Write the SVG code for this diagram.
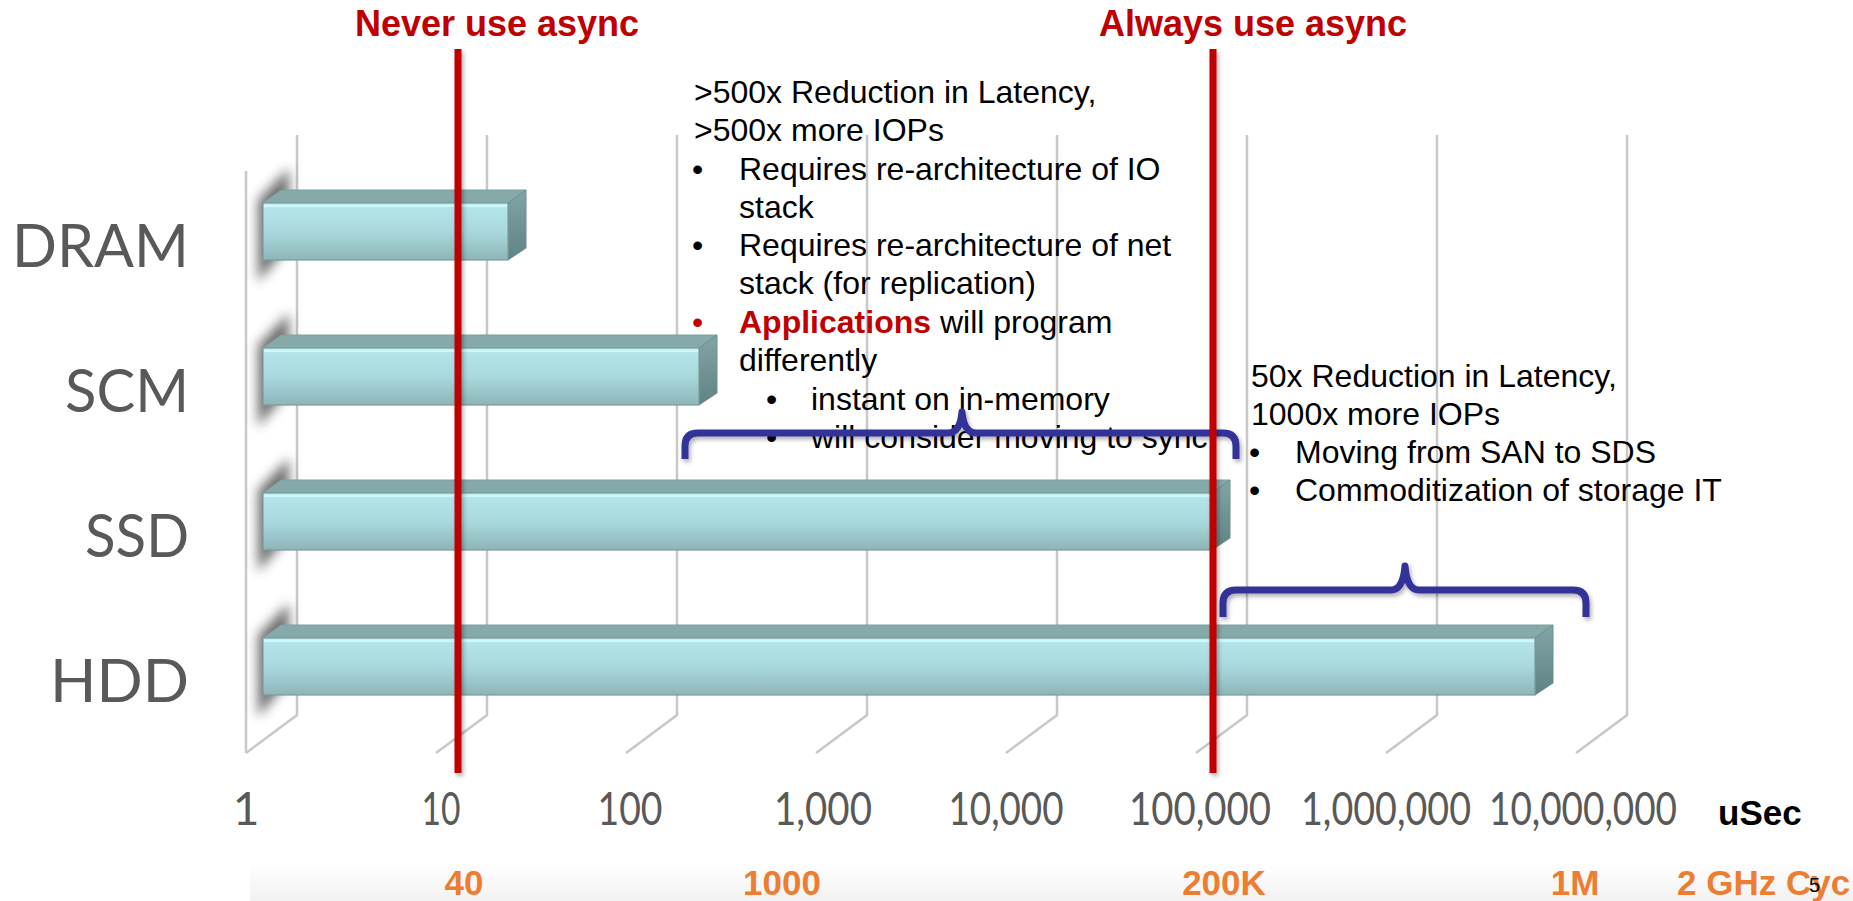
<svg xmlns="http://www.w3.org/2000/svg" width="1853" height="901" viewBox="0 0 1853 901">
<defs>
  <linearGradient id="gFront" x1="0" y1="0" x2="0" y2="1">
    <stop offset="0" stop-color="#c6f4f8"/>
    <stop offset="0.1" stop-color="#b2e4e8"/>
    <stop offset="0.5" stop-color="#a9d9dd"/>
    <stop offset="1" stop-color="#8eb5b8"/>
  </linearGradient>
  <linearGradient id="gSide" x1="0" y1="0" x2="0" y2="1">
    <stop offset="0" stop-color="#82a6a7"/>
    <stop offset="1" stop-color="#5f8384"/>
  </linearGradient>
  <linearGradient id="gBottom" x1="0" y1="0" x2="0" y2="1">
    <stop offset="0" stop-color="#ffffff"/>
    <stop offset="1" stop-color="#f2f2f2"/>
  </linearGradient>
  <filter id="fBlur" x="-100%" y="-50%" width="300%" height="200%">
    <feGaussianBlur stdDeviation="6"/>
  </filter>
  <filter id="fShadow" filterUnits="userSpaceOnUse" x="0" y="0" width="1853" height="901">
    <feDropShadow dx="2" dy="3" stdDeviation="2" flood-color="#000" flood-opacity="0.3"/>
  </filter>
</defs>
<style>
  .grid { fill: none; stroke: #c8c8c8; stroke-width: 2.5; }
  .top { fill: #86a9aa; stroke: #7d9fa0; stroke-width: 1; }
  .side { fill: url(#gSide); stroke: #6c8e8f; stroke-width: 1; }
  .front { fill: url(#gFront); stroke: #7a9b9c; stroke-width: 1.2; }
  .hl { stroke: #cdf7fa; stroke-width: 2; }
  .shadow { fill: #3c3c3c; opacity: 0.75; }
  .cat { font-family: Lato, "Open Sans", sans-serif; font-size: 60px; fill: #595959; text-anchor: end; }
  .axis { font-family: Lato, "Open Sans", sans-serif; font-size: 46px; fill: #595959; text-anchor: middle; }
  .t { font-family: "Liberation Sans", Arial, sans-serif; font-size: 32px; fill: #000; }
  .title { font-family: "Liberation Sans", Arial, sans-serif; font-size: 36px; font-weight: bold; fill: #c00000; text-anchor: middle; }
  .or { font-family: "Liberation Sans", Arial, sans-serif; font-size: 35px; font-weight: bold; fill: #ed7d31; }
  .redline { fill: #c00000; }
  .brace { fill: none; stroke: #333399; stroke-width: 7; stroke-linejoin: round; }
</style>
<rect width="1853" height="901" fill="#ffffff"/>
<rect x="250" y="862" width="1603" height="39" fill="url(#gBottom)"/>

<g id="grid">
  <path class="grid" d="M246,171 V753"/>
  <path class="grid" d="M297,135 V715 L246,753"/>
  <path class="grid" d="M487,135 V715 L436,753"/>
  <path class="grid" d="M677,135 V715 L626,753"/>
  <path class="grid" d="M867,135 V715 L816,753"/>
  <path class="grid" d="M1057,135 V715 L1006,753"/>
  <path class="grid" d="M1247,135 V715 L1196,753"/>
  <path class="grid" d="M1437,135 V715 L1386,753"/>
  <path class="grid" d="M1627,135 V715 L1576,753"/>
</g>

<g id="categories">
  <text class="cat" x="189" y="267" textLength="177" lengthAdjust="spacingAndGlyphs">DRAM</text>
  <text class="cat" x="189" y="412" textLength="124" lengthAdjust="spacingAndGlyphs">SCM</text>
  <text class="cat" x="189" y="557" textLength="104" lengthAdjust="spacingAndGlyphs">SSD</text>
  <text class="cat" x="189" y="702" textLength="139" lengthAdjust="spacingAndGlyphs">HDD</text>
</g>

<g id="bar-dram">
  <polygon class="shadow" filter="url(#fBlur)" points="258,200 289,168 289,245 258,282"/>
  <polygon class="top" points="263,203 281,190 526,190 508,203"/>
  <polygon class="side" points="508,203 526,190 526,248 508,260"/>
  <rect class="front" x="263" y="203" width="245" height="57"/>
  <line class="hl" x1="264" y1="206" x2="507" y2="206"/>
</g>
<g id="bar-scm">
  <polygon class="shadow" filter="url(#fBlur)" points="258,345 289,313 289,390 258,427"/>
  <polygon class="top" points="263,348 281,335 717,335 699,348"/>
  <polygon class="side" points="699,348 717,335 717,393 699,405"/>
  <rect class="front" x="263" y="348" width="436" height="57"/>
  <line class="hl" x1="264" y1="351" x2="698" y2="351"/>
</g>
<g id="bar-ssd">
  <polygon class="shadow" filter="url(#fBlur)" points="258,490 289,458 289,535 258,572"/>
  <polygon class="top" points="263,493 281,480 1230,480 1212,493"/>
  <polygon class="side" points="1212,493 1230,480 1230,538 1212,550"/>
  <rect class="front" x="263" y="493" width="949" height="57"/>
  <line class="hl" x1="264" y1="496" x2="1211" y2="496"/>
</g>
<g id="bar-hdd">
  <polygon class="shadow" filter="url(#fBlur)" points="258,635 289,603 289,680 258,717"/>
  <polygon class="top" points="263,638 281,625 1553,625 1535,638"/>
  <polygon class="side" points="1535,638 1553,625 1553,683 1535,695"/>
  <rect class="front" x="263" y="638" width="1272" height="57"/>
  <line class="hl" x1="264" y1="641" x2="1534" y2="641"/>
</g>

<g id="axis-labels">
  <text class="axis" x="246" y="825">1</text>
  <text class="axis" x="441" y="825" textLength="39" lengthAdjust="spacingAndGlyphs">10</text>
  <text class="axis" x="630" y="825" textLength="65" lengthAdjust="spacingAndGlyphs">100</text>
  <text class="axis" x="823" y="825" textLength="98" lengthAdjust="spacingAndGlyphs">1,000</text>
  <text class="axis" x="1006" y="825" textLength="115" lengthAdjust="spacingAndGlyphs">10,000</text>
  <text class="axis" x="1200" y="825" textLength="142" lengthAdjust="spacingAndGlyphs">100,000</text>
  <text class="axis" x="1386" y="825" textLength="170" lengthAdjust="spacingAndGlyphs">1,000,000</text>
  <text class="axis" x="1583" y="825" textLength="188" lengthAdjust="spacingAndGlyphs">10,000,000</text>
  <text x="1718" y="825" font-family="'Liberation Sans', Arial, sans-serif" font-size="35" font-weight="bold" fill="#000">uSec</text>
</g>

<g id="cycles">
  <text class="or" x="464" y="895" text-anchor="middle">40</text>
  <text class="or" x="782" y="895" text-anchor="middle">1000</text>
  <text class="or" x="1224" y="895" text-anchor="middle">200K</text>
  <text class="or" x="1575" y="895" text-anchor="middle">1M</text>
  <text class="or" x="1677" y="895">2 GHz Cyc</text>
  <text x="1809" y="892" font-family="'Liberation Sans', Arial, sans-serif" font-size="20" fill="#000">5</text>
</g>

<g id="note-scm">
  <text class="t" x="694" y="103">&gt;500x Reduction in Latency,</text>
  <text class="t" x="694" y="141">&gt;500x more IOPs</text>
  <text class="t" x="692" y="180">•</text>
  <text class="t" x="739" y="180">Requires re-architecture of IO</text>
  <text class="t" x="739" y="218">stack</text>
  <text class="t" x="692" y="256">•</text>
  <text class="t" x="739" y="256">Requires re-architecture of net</text>
  <text class="t" x="739" y="294">stack (for replication)</text>
  <text class="t" x="692" y="333" style="fill:#c00000">•</text>
  <text class="t" x="739" y="333"><tspan font-weight="bold" style="fill:#c00000">Applications</tspan> will program</text>
  <text class="t" x="739" y="371">differently</text>
  <text class="t" x="766" y="410">•</text>
  <text class="t" x="811" y="410">instant on in-memory</text>
  <text class="t" x="766" y="448">•</text>
  <text class="t" x="811" y="448">will consider moving to sync</text>
</g>

<g id="note-ssd">
  <text class="t" x="1251" y="387">50x Reduction in Latency,</text>
  <text class="t" x="1251" y="425">1000x more IOPs</text>
  <text class="t" x="1249" y="463">•</text>
  <text class="t" x="1295" y="463">Moving from SAN to SDS</text>
  <text class="t" x="1249" y="501">•</text>
  <text class="t" x="1295" y="501">Commoditization of storage IT</text>
</g>

<g id="connectors">
  <path class="brace" filter="url(#fShadow)" d="M685,459 V446 Q685,433 698,433 H948 Q960,433 962,412 Q964,433 976,433 H1223 Q1236,433 1236,446 V459"/>
  <path class="brace" filter="url(#fShadow)" d="M1223,617 V603 Q1223,590 1236,590 H1391 Q1403,590 1405,566 Q1407,590 1419,590 H1573 Q1586,590 1586,603 V617"/>
  <rect class="redline" filter="url(#fShadow)" x="454.5" y="49" width="7" height="724"/>
  <rect class="redline" filter="url(#fShadow)" x="1209.5" y="49" width="7" height="724"/>
</g>

<g id="titles">
  <text class="title" x="497" y="36">Never use async</text>
  <text class="title" x="1253" y="36">Always use async</text>
</g>
</svg>
